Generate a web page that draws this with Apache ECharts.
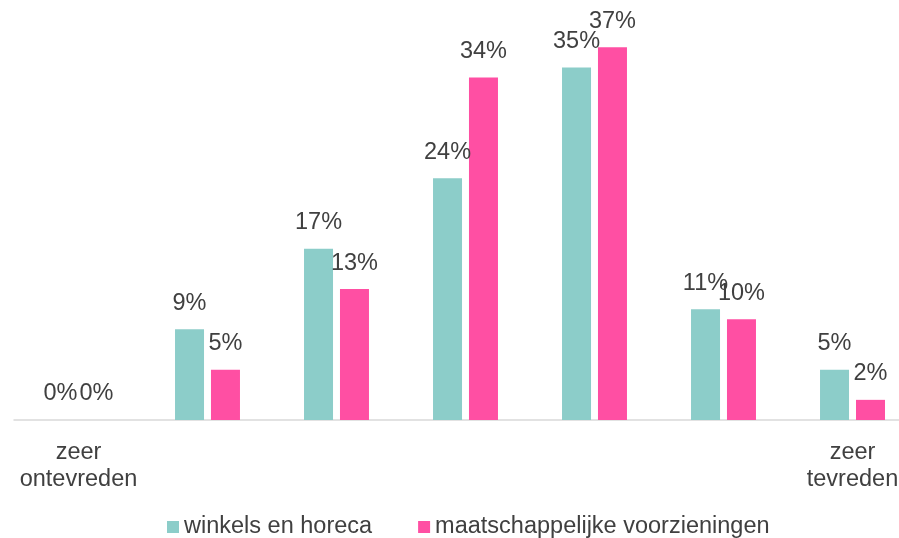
<!DOCTYPE html>
<html>
<head>
<meta charset="utf-8">
<script src="https://cdn.jsdelivr.net/npm/echarts@6/dist/echarts.min.js"></script>
<style>
    html, body { margin: 0; padding: 0; background: #fff; overflow: hidden; }
    /* the plot runs past the right edge in the original, so the chart is a bit wider than the page */
    #chart { width: 917px; height: 538px; }
</style>
</head>
<body>
<div id="chart"></div>
<script>
    var categories = ['zeer\nontevreden', '', '', '', '', '', 'zeer\ntevreden'];
    var seriesNames = ['winkels en horeca', 'maatschappelijke voorzieningen'];
    var winkels = [0, 9, 17, 24, 35, 11, 5];
    var voorzieningen = [0, 5, 13, 34, 37, 10, 2];

    var font = 'Liberation Sans, Arial, sans-serif';
    var label = {
        show: true,
        position: 'top',
        distance: 14,
        formatter: '{c}%',
        color: '#404040',
        fontSize: 23.5,
        fontFamily: font
    };

    var chart = echarts.init(document.getElementById('chart'));
    chart.setOption({
        animation: false,
        color: ['#8ccdc9', '#ff4fa3'],
        grid: { left: 14, top: 17, right: 0, bottom: 118, containLabel: false },
        legend: {
            bottom: -6,
            left: 162,
            itemWidth: 12,
            itemHeight: 12,
            itemGap: 46,
            icon: 'rect',
            textStyle: { color: '#404040', fontSize: 23.5, fontFamily: font },
            data: seriesNames
        },
        xAxis: {
            type: 'category',
            data: categories,
            axisLine: { lineStyle: { color: '#d9d9d9', width: 1.5 } },
            axisTick: { show: false },
            axisLabel: {
                interval: 0,
                margin: 19,
                lineHeight: 27,
                color: '#404040',
                fontSize: 23.5,
                fontFamily: font
            }
        },
        yAxis: {
            type: 'value',
            min: 0,
            max: 40,
            show: false
        },
        series: [
            {
                name: seriesNames[0],
                type: 'bar',
                data: winkels,
                barWidth: 29,
                barGap: '24%',
                label: label
            },
            {
                name: seriesNames[1],
                type: 'bar',
                data: voorzieningen,
                barWidth: 29,
                label: label
            }
        ]
    });
</script>
</body>
</html>
